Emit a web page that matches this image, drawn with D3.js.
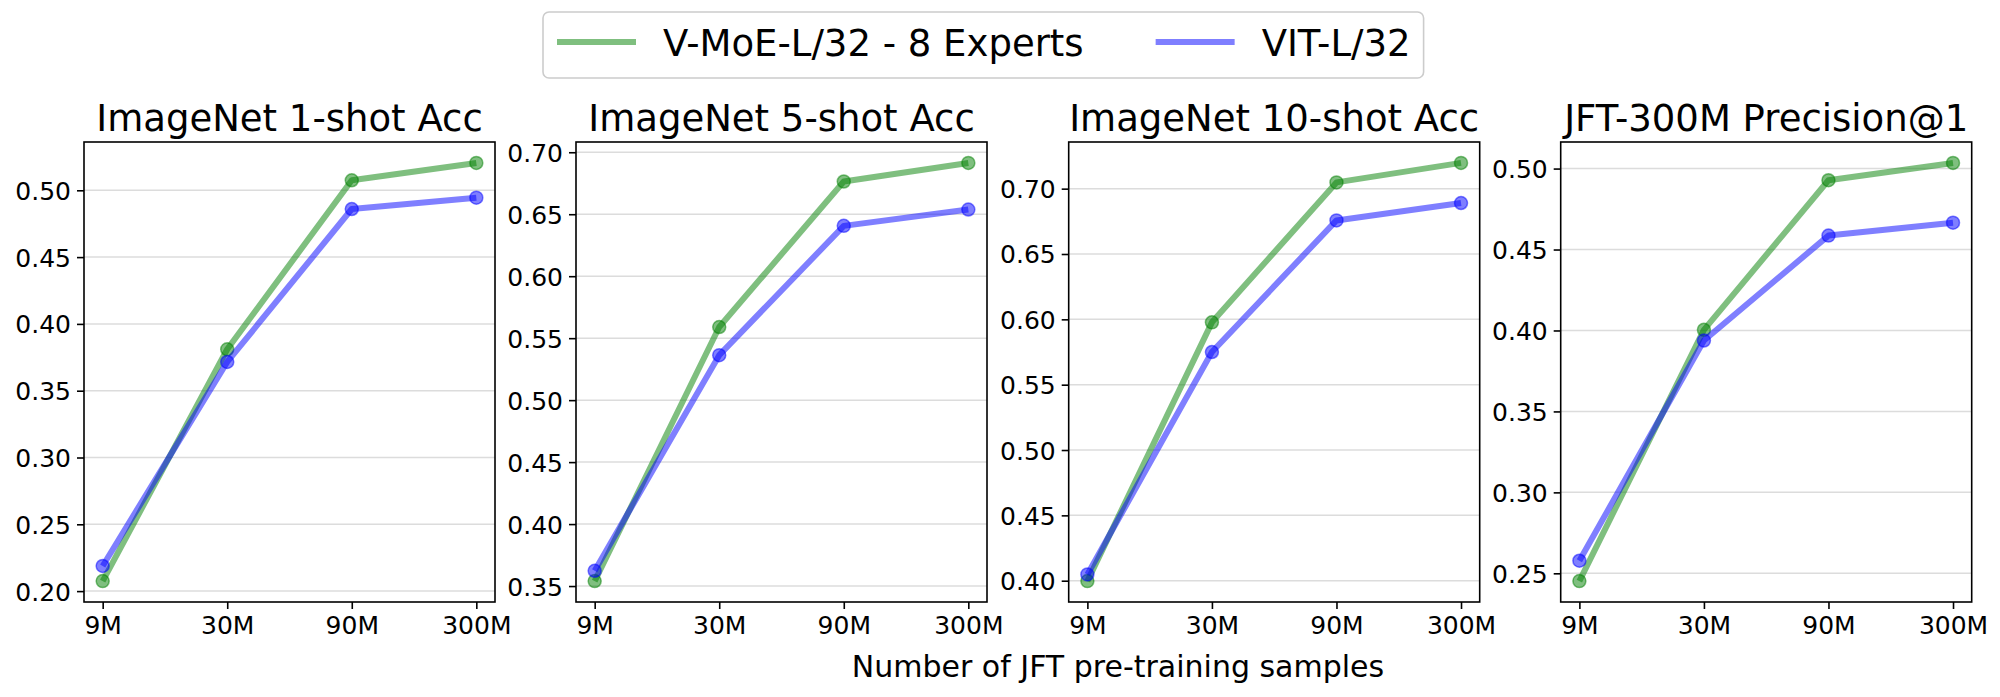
<!DOCTYPE html>
<html><head><meta charset="utf-8">
<script src="https://cdn.jsdelivr.net/npm/d3@7"></script>
<style>body{margin:0;background:#fff}svg{display:block}text{font-family:"DejaVu Sans",sans-serif;fill:#000}</style>
</head><body><svg id="c" width="2000" height="697"></svg>
<script>
// ---- data ----
const categories = ["9M", "30M", "90M", "300M"];
const panelTitles = ["ImageNet 1-shot Acc", "ImageNet 5-shot Acc", "ImageNet 10-shot Acc", "JFT-300M Precision@1"];
const seriesNames = ["V-MoE-L/32 - 8 Experts", "VIT-L/32"];
const vmoe1  = [0.2075, 0.381, 0.5075, 0.5205];
const vit1   = [0.2188, 0.3715, 0.486, 0.4945];
const vmoe5  = [0.354, 0.559, 0.6764, 0.6914];
const vit5   = [0.3623, 0.5363, 0.6406, 0.6538];
const vmoe10 = [0.3997, 0.5977, 0.7048, 0.7197];
const vit10  = [0.4048, 0.575, 0.6757, 0.689];
const vmoeJft = [0.2452, 0.4004, 0.4928, 0.5035];
const vitJft  = [0.2578, 0.3938, 0.4586, 0.4666];
const yTicks1  = [0.20, 0.25, 0.30, 0.35, 0.40, 0.45, 0.50];
const yTicks5  = [0.35, 0.40, 0.45, 0.50, 0.55, 0.60, 0.65, 0.70];
const yTicks10 = [0.40, 0.45, 0.50, 0.55, 0.60, 0.65, 0.70];
const yTicksJft = [0.25, 0.30, 0.35, 0.40, 0.45, 0.50];
const xLabel = "Number of JFT pre-training samples";

// ---- layout / style ----
const panels = [
  {title: panelTitles[0], a: vmoe1, b: vit1, ticks: yTicks1},
  {title: panelTitles[1], a: vmoe5, b: vit5, ticks: yTicks5},
  {title: panelTitles[2], a: vmoe10, b: vit10, ticks: yTicks10},
  {title: panelTitles[3], a: vmoeJft, b: vitJft, ticks: yTicksJft}
];
const lefts = [84, 576, 1068.7, 1560.7];
const pw = 411, plotTop = 142, plotBottom = 602;
const colors = ["rgb(0,128,0)", "rgb(0,0,255)"];
const svg = d3.select("#c");

panels.forEach((p, i) => {
  const g = svg.append("g").attr("transform", `translate(${lefts[i]},0)`);
  const x = d3.scalePoint().domain(categories).range([0, pw]).padding(0.15);
  const all = p.a.concat(p.b);
  const [mn, mx] = d3.extent(all);
  const pad = (mx - mn) * 0.05;
  const y = d3.scaleLinear().domain([mn - pad, mx + pad]).range([plotBottom, plotTop]);

  // grid
  g.selectAll("line.grid").data(p.ticks).join("line").attr("class", "grid")
    .attr("x1", 0).attr("x2", pw)
    .attr("y1", d => y(d)).attr("y2", d => y(d))
    .attr("stroke", "#dcdcdc").attr("stroke-width", 1.5);

  // series
  [p.a, p.b].forEach((vals, si) => {
    const line = d3.line().x((d, k) => x(categories[k])).y(d => y(d));
    g.append("path").datum(vals).attr("d", line)
      .attr("fill", "none").attr("stroke", colors[si]).attr("stroke-opacity", 0.5)
      .attr("stroke-width", 6).attr("stroke-linejoin", "round");
    g.append("g").selectAll("circle").data(vals).join("circle")
      .attr("cx", (d, k) => x(categories[k])).attr("cy", d => y(d)).attr("r", 6.5)
      .attr("fill", colors[si]).attr("fill-opacity", 0.5)
      .attr("stroke", colors[si]).attr("stroke-opacity", 0.5).attr("stroke-width", 1.5);
  });

  // axes
  const yAxis = d3.axisLeft(y).tickValues(p.ticks).tickFormat(d3.format(".2f")).tickSize(7).tickPadding(6);
  const ya = g.append("g").call(yAxis);
  ya.select(".domain").remove();
  ya.selectAll("line").attr("stroke-width", 1.6);
  ya.selectAll("text").attr("font-size", 25).attr("font-family", "DejaVu Sans").attr("dy", "0.36em");

  const xAxis = d3.axisBottom(x).tickSize(7).tickPadding(7);
  const xa = g.append("g").attr("transform", `translate(0,${plotBottom})`).call(xAxis);
  xa.select(".domain").remove();
  xa.selectAll("line").attr("stroke-width", 1.6);
  xa.selectAll("text").attr("font-size", 25).attr("font-family", "DejaVu Sans");

  // frame
  g.append("rect").attr("x", 0).attr("y", plotTop).attr("width", pw).attr("height", plotBottom - plotTop)
    .attr("fill", "none").attr("stroke", "#000").attr("stroke-width", 1.6);

  // title
  g.append("text").attr("x", pw / 2).attr("y", plotTop - 11).attr("text-anchor", "middle")
    .attr("font-size", 37).text(p.title);
});

// x label
svg.append("text").attr("x", 1118).attr("y", 677).attr("text-anchor", "middle")
  .attr("font-size", 30).text(xLabel);

// legend
const lg = svg.append("g");
const lbox = lg.append("rect").attr("y", 12).attr("height", 66).attr("rx", 6).attr("ry", 6)
  .attr("fill", "#fff").attr("fill-opacity", 0.8).attr("stroke", "#cccccc").attr("stroke-width", 1.6);
let cx = 557;
seriesNames.forEach((name, si) => {
  lg.append("line").attr("x1", cx).attr("x2", cx + 79).attr("y1", 42).attr("y2", 42)
    .attr("stroke", colors[si]).attr("stroke-opacity", 0.5).attr("stroke-width", 6);
  const t = lg.append("text").attr("x", cx + 79 + 27).attr("y", 55.5).attr("font-size", 37).text(name);
  const w = t.node().getComputedTextLength();
  cx = cx + 79 + 27 + w + 72;
});
const legendRight = cx - 72 + 13;
lbox.attr("x", 543).attr("width", legendRight - 543);
</script></body></html>
